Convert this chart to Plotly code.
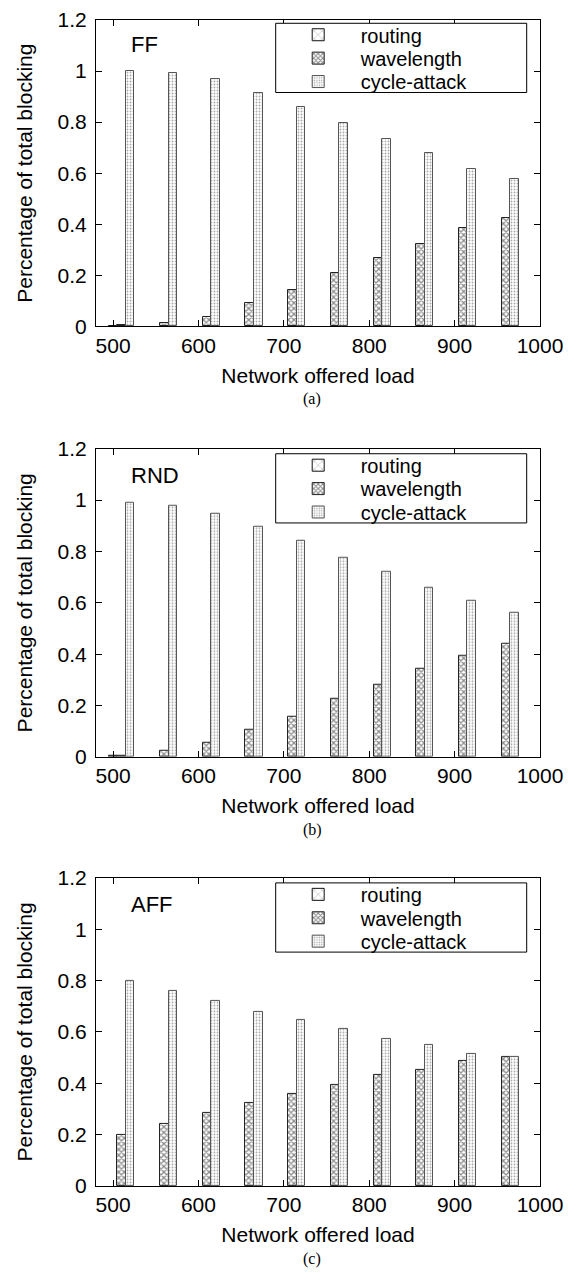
import plotly.graph_objects as go

# ---------------- data ----------------
loads = [500, 550, 600, 650, 700, 750, 800, 850, 900, 950]
series_names = ["routing", "wavelength", "cycle-attack"]

ff_routing = [0.003, None, None, None, None, None, None, None, None, None]
ff_wavelength = [0.004, 0.015, 0.038, 0.09, 0.144, 0.208, 0.269, 0.321, 0.385, 0.426]
ff_cycle = [1.0, 0.991, 0.969, 0.914, 0.858, 0.796, 0.732, 0.681, 0.617, 0.577]

rnd_routing = [0.004, None, None, None, None, None, None, None, None, None]
rnd_wavelength = [0.006, 0.022, 0.055, 0.105, 0.158, 0.227, 0.281, 0.343, 0.394, 0.44]
rnd_cycle = [0.991, 0.978, 0.947, 0.895, 0.841, 0.775, 0.72, 0.657, 0.608, 0.561]

aff_routing = [None, None, None, None, None, None, None, None, None, None]
aff_wavelength = [0.2, 0.242, 0.283, 0.325, 0.36, 0.394, 0.432, 0.452, 0.487, 0.504]
aff_cycle = [0.8, 0.761, 0.72, 0.678, 0.646, 0.611, 0.573, 0.55, 0.514, 0.501]

panel_names = ["FF", "RND", "AFF"]
panel_captions = ["(a)", "(b)", "(c)"]
x_title = "Network offered load"
y_title = "Percentage of total blocking"
x_ticks = [500, 600, 700, 800, 900, 1000]
y_ticks = [0, 0.2, 0.4, 0.6, 0.8, 1.0, 1.2]

panels = [
    (ff_routing, ff_wavelength, ff_cycle),
    (rnd_routing, rnd_wavelength, rnd_cycle),
    (aff_routing, aff_wavelength, aff_cycle),
]

# ---------------- layout geometry (page body has an 8px margin) ----------------
W, H = 571, 1275
ML, MR, MT, MB = 88, 39, 7, 97
plot_h = H - MT - MB
plot_w = W - ML - MR
frames_px = [(7.0, 314.7), (437.6, 747.0), (868.6, 1178.0)]


def py(p):
    return (H - MB - p) / plot_h


styles = {
    "routing": dict(offset=-5, shape="x", size=7, solidity=0.12,
                    fg="#111111", line="#111111"),
    "wavelength": dict(offset=5, shape="x", size=4, solidity=0.55,
                       fg="#1a1a1a", line="#222222"),
    "cycle-attack": dict(offset=15, shape=".", size=3, solidity=0.3,
                         fg="#555555", line="#555555"),
}

FONT = "Liberation Sans, Arial, Helvetica, sans-serif"
SERIF = "Liberation Serif, Times New Roman, serif"

fig = go.Figure()
layout = dict()
shapes = []

box_left = (267.7 - ML) / plot_w
box_right = (518.7 - ML) / plot_w
ref_top = 5.3              # reference frame-top used for legend rows
box_top_off, box_bot_off = 5.0, 74.5
row_offsets = [16.5, 40.0, 63.5]

for i, vals in enumerate(panels):
    k = "" if i == 0 else str(i + 1)
    xa, ya = "x" + k, "y" + k
    top_px, bot_px = frames_px[i]
    ftop = ref_top if i == 0 else top_px
    for j, (sname, v) in enumerate(zip(series_names, vals)):
        s = styles[sname]
        n = 3 * i + j + 1
        legname = "legend" if n == 1 else "legend%d" % n
        fig.add_trace(go.Bar(
            x=loads, y=v, name=sname, xaxis=xa, yaxis=ya,
            width=10, offset=s["offset"],
            marker=dict(color="white",
                        line=dict(color=s["line"], width=1),
                        pattern=dict(shape=s["shape"], size=s["size"],
                                     solidity=s["solidity"], fgcolor=s["fg"],
                                     bgcolor="white", fillmode="overlay")),
            legend=legname, showlegend=True,
        ))
        layout[legname] = dict(
            x=box_left, y=py(ftop + row_offsets[j]),
            xanchor="left", yanchor="middle",
            bgcolor="rgba(0,0,0,0)", borderwidth=0,
            font=dict(family=FONT, size=20, color="black"),
            itemwidth=75,
        )
    dom = [py(bot_px), py(top_px)]
    layout["xaxis" + k] = dict(
        domain=[0, 1], anchor=ya, range=[480, 1000], automargin=False,
        tickvals=x_ticks, ticks="inside", ticklen=6, tickcolor="black",
        showline=True, linecolor="black", linewidth=1, mirror="ticks",
        showgrid=False, zeroline=False, ticklabeloverflow="allow",
        tickfont=dict(family=FONT, size=21, color="black"),
        title=dict(text=x_title, font=dict(family=FONT, size=21, color="black"),
                   standoff=12),
    )
    layout["yaxis" + k] = dict(
        domain=dom, anchor=xa, range=[0, 1.2], automargin=False,
        tickvals=y_ticks, ticks="inside", ticklen=6, tickcolor="black",
        showline=True, linecolor="black", linewidth=1, mirror="ticks",
        showgrid=False, zeroline=False, ticklabelstandoff=4,
        ticklabeloverflow="allow",
        tickfont=dict(family=FONT, size=21, color="black"),
        title=dict(text=y_title, font=dict(family=FONT, size=21, color="black"),
                   standoff=19),
    )
    # legend frame
    shapes.append(dict(
        type="rect", xref="paper", yref="paper",
        x0=box_left, x1=box_right,
        y0=py(ftop + box_bot_off), y1=py(ftop + box_top_off),
        line=dict(color="black", width=1), fillcolor="white", layer="above"))

annotations = []
for i, (name, cap) in enumerate(zip(panel_names, panel_captions)):
    k = "" if i == 0 else str(i + 1)
    top_px, bot_px = frames_px[i]
    ftop = ref_top if i == 0 else top_px
    annotations.append(dict(
        text=name, xref="x" + k, yref="paper", x=519, y=py(ftop + 26.7),
        xanchor="left", yanchor="middle", showarrow=False,
        font=dict(family=FONT, size=22, color="black")))
    annotations.append(dict(
        text=cap, xref="paper", yref="paper",
        x=(304 - ML) / plot_w, y=py(bot_px + 73),
        xanchor="center", yanchor="middle", showarrow=False,
        font=dict(family=SERIF, size=16, color="black")))

fig.update_layout(
    **layout,
    template="none",
    annotations=annotations,
    shapes=shapes,
    width=W, height=H,
    margin=dict(l=ML, r=MR, t=MT, b=MB),
    plot_bgcolor="white", paper_bgcolor="white",
    barmode="overlay", bargap=0,
)

fig.write_html("out.html")
